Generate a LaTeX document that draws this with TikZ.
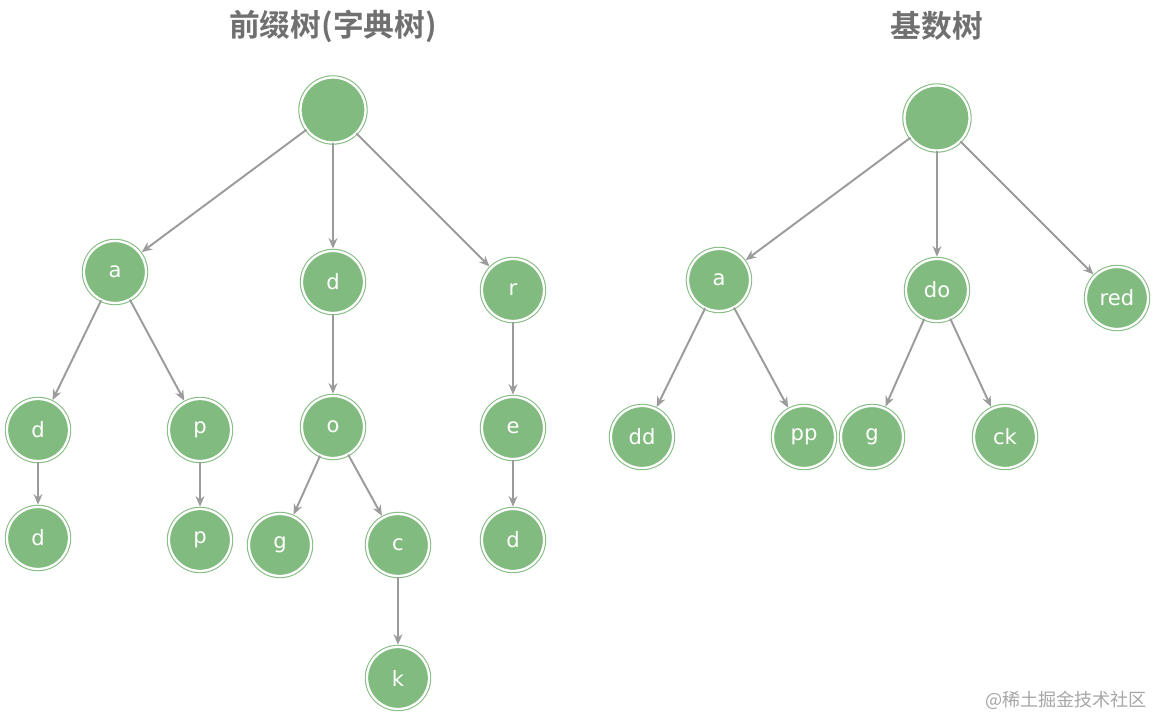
\documentclass[tikz,border=0pt]{standalone}
\usepackage{fontspec}
\setmainfont{DejaVu Sans}
\newfontfamily\cjk{Noto Sans CJK SC}
\newfontfamily\cjkbold{Noto Sans CJK SC Bold}
\usetikzlibrary{arrows.meta, positioning}
\definecolor{nodegreen}{RGB}{130,187,127}
\definecolor{edgegray}{RGB}{155,155,155}
\definecolor{titlegray}{RGB}{112,112,112}

\begin{document}
\begin{tikzpicture}[
 treenode/.style={circle,fill=nodegreen,draw=nodegreen,line width=0.6pt,
   double=white,double distance=1.3pt,
   minimum size=1.24cm,inner sep=0pt,
   text=white,font=\fontsize{12}{14}\selectfont},
 rootnode/.style={treenode,minimum size=1.3cm},
 edge/.style={-{Stealth[length=6pt,width=5pt]},edgegray,line width=1.1pt,
   shorten >=1pt},
 title/.style={text=titlegray,font=\cjkbold\fontsize{17.5}{20}\selectfont}]
 \useasboundingbox (0,0) rectangle (23.08,-14.36);
 % titles
 \node[title] (ltitle) at (6.66,-0.52) {前缀树(字典树)};
 \node[title] (rtitle) at (18.74,-0.52) {基数树};
 % prefix tree
 \node[rootnode] (lroot) at (6.66,-2.2) {};
 \node[treenode] (la) at (2.3,-5.44) {a};
 \node[treenode] (ld) at (6.66,-5.64) {d};
 \node[treenode] (lr) at (10.26,-5.8) {r};
 \node[treenode] (lad) at (0.76,-8.6) {d};
 \node[treenode] (lap) at (4.0,-8.6) {p};
 \node[treenode] (lo) at (6.66,-8.54) {o};
 \node[treenode] (lre) at (10.26,-8.56) {e};
 \node[treenode] (ladd) at (0.76,-10.76) {d};
 \node[treenode] (lapp) at (4.0,-10.8) {p};
 \node[treenode] (log) at (5.6,-10.9) {g};
 \node[treenode] (loc) at (7.96,-10.9) {c};
 \node[treenode] (lred) at (10.26,-10.8) {d};
 \node[treenode] (lock) at (7.96,-13.56) {k};
 % radix tree
 \node[rootnode] (rroot) at (18.74,-2.36) {};
 \node[treenode] (ra) at (14.38,-5.6) {a};
 \node[treenode] (rdo) at (18.74,-5.8) {do};
 \node[treenode] (rred) at (22.34,-5.96) {red};
 \node[treenode] (radd) at (12.84,-8.74) {dd};
 \node[treenode] (rapp) at (16.08,-8.74) {pp};
 \node[treenode] (rdog) at (17.44,-8.74) {g};
 \node[treenode] (rdock) at (20.1,-8.74) {ck};
 \node[text=black!35,font=\cjk\fontsize{10.3}{12}\selectfont] (mark)
   at (21.32,-14.0) {@稀土掘金技术社区};
 % edges
 \draw[edge] (lroot) -- (la);
 \draw[edge] (lroot) -- (ld);
 \draw[edge] (lroot) -- (lr);
 \draw[edge] (la) -- (lad);
 \draw[edge] (la) -- (lap);
 \draw[edge] (lad) -- (ladd);
 \draw[edge] (lap) -- (lapp);
 \draw[edge] (ld) -- (lo);
 \draw[edge] (lo) -- (log);
 \draw[edge] (lo) -- (loc);
 \draw[edge] (loc) -- (lock);
 \draw[edge] (lr) -- (lre);
 \draw[edge] (lre) -- (lred);
 \draw[edge] (rroot) -- (ra);
 \draw[edge] (rroot) -- (rdo);
 \draw[edge] (rroot) -- (rred);
 \draw[edge] (ra) -- (radd);
 \draw[edge] (ra) -- (rapp);
 \draw[edge] (rdo) -- (rdog);
 \draw[edge] (rdo) -- (rdock);
\end{tikzpicture}
\end{document}
